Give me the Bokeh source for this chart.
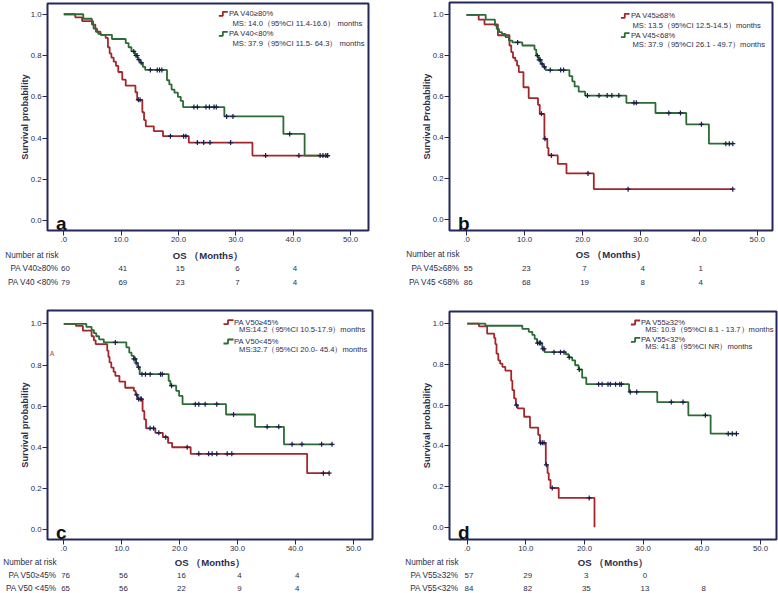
from bokeh.plotting import figure
from bokeh.layouts import column, row
from bokeh.models import Label, Range1d, FixedTicker, CustomJSTickFormatter
from bokeh.embed import file_html
from bokeh.resources import INLINE

# ---------------- data ----------------
X_TICKS = [0, 10, 20, 30, 40, 50]
X_TICK_LABELS = [".0", "10.0", "20.0", "30.0", "40.0", "50.0"]
Y_TICKS = [0.0, 0.2, 0.4, 0.6, 0.8, 1.0]
Y_TICK_LABELS = ["0.0", "0.2", "0.4", "0.6", "0.8", "1.0"]
RISK_TIMES = [0, 10, 20, 30, 40]
X_TITLE = "OS \uff08Months\uff09"
RISK_TITLE = "Number at risk"

# Panel a
A_RED_T = [0, 2.0, 3.2, 5.1, 5.5, 5.8, 6.4, 7.3, 7.7, 8.0, 8.3, 8.7, 9.1, 9.5, 10.2, 10.8, 12.5, 12.8, 13.7, 14.0, 14.3, 15.7, 17.3, 21.8, 32.9]
A_RED_S = [1.0, 0.985, 0.967, 0.95, 0.93, 0.915, 0.90, 0.885, 0.84, 0.81, 0.79, 0.77, 0.75, 0.72, 0.683, 0.654, 0.622, 0.585, 0.525, 0.487, 0.457, 0.434, 0.409, 0.378, 0.315]
A_RED_END = 46.0
A_RED_CENS = [13.0, 13.3, 18.6, 20.9, 21.3, 23.3, 24.4, 25.5, 29.1, 35.2, 41.0, 46.0]
A_GREEN_T = [0, 3.4, 4.9, 5.2, 5.6, 6.0, 6.5, 8.4, 10.8, 11.3, 11.8, 12.4, 12.9, 13.3, 13.8, 14.2, 18.0, 18.4, 18.8, 19.3, 19.9, 20.4, 20.8, 28.0, 38.3, 42.0]
A_GREEN_S = [1.0, 0.978, 0.95, 0.93, 0.915, 0.905, 0.90, 0.88, 0.86, 0.84, 0.82, 0.80, 0.78, 0.765, 0.745, 0.73, 0.68, 0.66, 0.635, 0.62, 0.60, 0.58, 0.55, 0.505, 0.42, 0.315]
A_GREEN_END = 46.0
A_GREEN_CENS = [12.2, 12.6, 12.8, 13.1, 13.5, 15.1, 16.3, 16.7, 17.1, 22.7, 23.3, 24.8, 25.4, 26.2, 26.6, 28.4, 29.5, 39.4, 44.7, 45.2, 45.7, 46.0]
A_LEGEND = ["PA V40\u226580%", "MS: 14.0\uff0895%CI 11.4-16.6\uff09 months",
            "PA V40<80%", "MS: 37.9\uff0895%CI 11.5- 64.3\uff09 months"]
A_RISK_LABELS = ["PA V40\u226580%", "PA V40 <80%"]
A_RISK_HIGH = [60, 41, 15, 6, 4]
A_RISK_LOW = [79, 69, 23, 7, 4]

# Panel b
B_RED_T = [0, 2.1, 3.1, 5.4, 7.4, 7.7, 8.0, 8.4, 8.7, 9.0, 9.8, 10.7, 12.3, 12.6, 13.4, 13.9, 14.1, 15.7, 17.2, 21.9]
B_RED_S = [1.0, 0.976, 0.953, 0.90, 0.85, 0.818, 0.79, 0.776, 0.752, 0.72, 0.646, 0.593, 0.56, 0.516, 0.394, 0.35, 0.313, 0.272, 0.225, 0.148]
B_RED_END = 45.8
B_RED_CENS = [12.9, 13.5, 14.6, 20.9, 27.8, 45.8]
B_GREEN_T = [0, 3.3, 4.9, 5.2, 5.6, 6.1, 6.7, 7.3, 7.9, 9.6, 11.7, 12.0, 12.4, 12.8, 13.2, 13.6, 17.7, 18.2, 18.6, 19.3, 20.4, 27.5, 32.5, 37.8, 41.7]
B_GREEN_S = [1.0, 0.976, 0.948, 0.931, 0.915, 0.907, 0.891, 0.874, 0.865, 0.85, 0.83, 0.80, 0.78, 0.76, 0.745, 0.73, 0.70, 0.675, 0.65, 0.625, 0.605, 0.57, 0.52, 0.465, 0.37]
B_GREEN_END = 45.8
B_GREEN_CENS = [8.8, 12.2, 12.5, 12.7, 13.0, 13.4, 14.4, 16.2, 16.7, 20.8, 22.8, 24.2, 25.0, 26.2, 28.8, 29.2, 34.8, 36.8, 40.4, 44.6, 45.2, 45.8]
B_LEGEND = ["PA V45\u226568%", "MS: 13.5\uff0895%CI 12.5-14.5\uff09months",
            "PA V45<68%", "MS: 37.9\uff0895%CI 26.1 - 49.7\uff09months"]
B_RISK_LABELS = ["PA V45\u226568%", "PA V45 <68%"]
B_RISK_HIGH = [55, 23, 7, 4, 1]
B_RISK_LOW = [86, 68, 19, 8, 4]

# Panel c
C_RED_T = [0, 2.1, 3.3, 4.8, 5.2, 5.5, 7.5, 7.7, 7.9, 8.2, 8.6, 8.9, 9.6, 10.6, 12.1, 12.4, 12.7, 13.6, 13.9, 14.2, 15.8, 17.1, 18.0, 18.7, 21.9, 42.0]
C_RED_S = [1.0, 0.99, 0.967, 0.94, 0.92, 0.902, 0.87, 0.84, 0.813, 0.788, 0.767, 0.748, 0.72, 0.69, 0.675, 0.655, 0.635, 0.577, 0.536, 0.493, 0.471, 0.45, 0.422, 0.401, 0.369, 0.275]
C_RED_END = 45.8
C_RED_CENS = [12.6, 12.9, 13.2, 13.4, 14.9, 15.5, 16.4, 17.6, 21.3, 23.3, 25.0, 25.6, 26.4, 28.2, 29.0, 44.8, 45.8]
C_GREEN_T = [0, 3.9, 4.8, 5.2, 5.6, 6.1, 6.9, 10.8, 11.3, 11.7, 12.1, 12.5, 12.8, 13.1, 18.1, 18.4, 19.4, 19.9, 20.5, 28.0, 33.0, 38.0]
C_GREEN_S = [1.0, 0.985, 0.97, 0.955, 0.94, 0.925, 0.91, 0.886, 0.86, 0.845, 0.83, 0.81, 0.79, 0.756, 0.723, 0.70, 0.675, 0.65, 0.61, 0.56, 0.50, 0.415]
C_GREEN_END = 46.3
C_GREEN_CENS = [8.9, 12.1, 12.3, 12.5, 12.9, 13.5, 14.1, 14.9, 16.7, 17.0, 18.6, 22.7, 23.3, 24.4, 26.4, 29.3, 35.1, 37.1, 39.4, 41.1, 44.5, 46.3]
C_LEGEND = ["PA V50\u226545%", "MS:14.2\uff0895%CI 10.5-17.9\uff09months",
            "PA V50<45%", "MS:32.7\uff0895%CI 20.0- 45.4\uff09months"]
C_RISK_LABELS = ["PA V50\u226545%", "PA V50 <45%"]
C_RISK_HIGH = [76, 56, 16, 4, 4]
C_RISK_LOW = [65, 56, 22, 9, 4]

# Panel d
D_RED_T = [0, 2.0, 3.4, 4.6, 4.8, 5.0, 5.3, 5.6, 6.0, 6.5, 7.5, 7.7, 8.0, 8.3, 8.6, 9.7, 10.7, 12.1, 12.4, 13.4, 13.7, 13.9, 14.2, 15.6, 21.7]
D_RED_S = [1.0, 0.987, 0.951, 0.93, 0.90, 0.853, 0.82, 0.804, 0.788, 0.77, 0.72, 0.674, 0.633, 0.60, 0.584, 0.543, 0.49, 0.454, 0.415, 0.307, 0.266, 0.233, 0.193, 0.144, 0.0]
D_RED_END = None
D_RED_CENS = [8.4, 12.5, 12.8, 13.1, 13.5, 14.5, 20.8]
D_GREEN_T = [0, 3.1, 9.4, 10.5, 11.1, 11.5, 11.9, 12.8, 13.2, 16.8, 17.3, 17.9, 18.4, 19.0, 19.6, 20.3, 27.6, 32.4, 37.7, 41.5]
D_GREEN_S = [1.0, 0.99, 0.975, 0.96, 0.945, 0.926, 0.905, 0.877, 0.86, 0.85, 0.835, 0.82, 0.796, 0.775, 0.735, 0.703, 0.665, 0.615, 0.55, 0.46]
D_GREEN_END = 45.9
D_GREEN_CENS = [12.0, 12.3, 12.5, 12.9, 13.1, 14.8, 15.9, 16.5, 17.4, 19.1, 22.4, 23.0, 24.0, 24.4, 25.3, 26.0, 26.3, 27.8, 28.9, 34.8, 36.8, 40.6, 44.5, 45.2, 45.9]
D_LEGEND = ["PA V55\u226532%", "MS: 10.9\uff0895%CI 8.1 - 13.7\uff09months",
            "PA V55<32%", "MS: 41.8\uff0895%CI NR\uff09months"]
D_RISK_LABELS = ["PA V55\u226532%", "PA V55<32%"]
D_RISK_HIGH = [57, 29, 3, 0]
D_RISK_LOW = [84, 82, 35, 13, 8]

# ---------------- style ----------------
FONT = "Liberation Sans"
RED = "#a3262b"
GREEN = "#2b6b36"
NAVY = "#25275a"
TEXT = "#2c2c4a"
CENS = "#1c1c4c"

# layout geometry in pixels
GEOM = {
    "a": dict(w=389, h=297, bl=47, br=21, bt=3, fh=227, xr=(-2.84, 53.14), yr=(-0.048, 1.052),
              leg_icon=(171.3, 180.3), leg_text=181.5, leg_ms=185.0, leg_rows=(10.3, 20.3, 30.3, 40.3),
              risk_rows=(8.0, 21.0, 35.0), label_end=11),
    "b": dict(w=389, h=297, bl=60, br=6, bt=2, fh=228, xr=(-2.92, 52.63), yr=(-0.054, 1.060),
              leg_icon=(171.4, 180.0), leg_text=181.4, leg_ms=183.0, leg_rows=(13.3, 22.6, 32.6, 41.6),
              risk_rows=(6.5, 21.0, 35.0), label_end=10),
    "c": dict(w=389, h=296, bl=47, br=17, bt=13, fh=229, xr=(-2.81, 53.28), yr=(-0.047, 1.065),
              leg_icon=(176.0, 186.0), leg_text=186.6, leg_ms=191.6, leg_rows=(11.7, 19.3, 31.0, 39.0),
              risk_rows=(5.7, 19.0, 32.0), label_end=9),
    "d": dict(w=389, h=296, bl=60, br=2, bt=14, fh=228, xr=(-3.02, 52.73), yr=(-0.060, 1.060),
              leg_icon=(181.4, 190.7), leg_text=191.4, leg_ms=195.7, leg_rows=(11.0, 18.3, 28.3, 35.3),
              risk_rows=(5.7, 19.0, 32.0), label_end=9),
}
BB = 17  # bottom border of the survival plot (ticks + tick labels)

PANELS = [
    dict(letter="a", ylabel="Survival probability",
         red=(A_RED_T, A_RED_S, A_RED_END, A_RED_CENS), green=(A_GREEN_T, A_GREEN_S, A_GREEN_END, A_GREEN_CENS),
         legend=A_LEGEND, risk_labels=A_RISK_LABELS, risk=(A_RISK_HIGH, A_RISK_LOW)),
    dict(letter="b", ylabel="Survival Probability",
         red=(B_RED_T, B_RED_S, B_RED_END, B_RED_CENS), green=(B_GREEN_T, B_GREEN_S, B_GREEN_END, B_GREEN_CENS),
         legend=B_LEGEND, risk_labels=B_RISK_LABELS, risk=(B_RISK_HIGH, B_RISK_LOW)),
    dict(letter="c", ylabel="Survival probability",
         red=(C_RED_T, C_RED_S, C_RED_END, C_RED_CENS), green=(C_GREEN_T, C_GREEN_S, C_GREEN_END, C_GREEN_CENS),
         legend=C_LEGEND, risk_labels=C_RISK_LABELS, risk=(C_RISK_HIGH, C_RISK_LOW)),
    dict(letter="d", ylabel="Survival probability",
         red=(D_RED_T, D_RED_S, D_RED_END, D_RED_CENS), green=(D_GREEN_T, D_GREEN_S, D_GREEN_END, D_GREEN_CENS),
         legend=D_LEGEND, risk_labels=D_RISK_LABELS, risk=(D_RISK_HIGH, D_RISK_LOW)),
]


def surv_at(t, s, c):
    val = s[0]
    for ti, si in zip(t, s):
        if ti <= c:
            val = si
        else:
            break
    return val


def add_label(p, x, y, text, size, color=TEXT, bold=False, align="left", baseline="middle"):
    p.add_layout(Label(x=x, y=y, text=text, text_font=FONT, text_font_size=f"{size}px",
                       text_color=color, text_font_style="bold" if bold else "normal",
                       text_align=align, text_baseline=baseline))


JS_FMT = ("let b = -1; for (let i = 0; i < tv.length; i++) { if (Math.abs(tv[i] - tick) < 1e-9) b = i; }"
          " return b >= 0 ? tl[b] : '';")


def style_axis(ax):
    ax.axis_line_color = None
    ax.major_tick_in = 0
    ax.major_tick_out = 5
    ax.major_tick_line_color = NAVY
    ax.major_tick_line_width = 1
    ax.minor_tick_line_color = None
    ax.major_label_text_font = FONT
    ax.major_label_text_font_size = "7.8px"
    ax.major_label_text_color = TEXT
    ax.major_label_standoff = 1
    ax.axis_label_text_font = FONT
    ax.axis_label_text_font_size = "9.2px"
    ax.axis_label_text_font_style = "bold"
    ax.axis_label_text_color = TEXT


def make_panel(cfg):
    g = GEOM[cfg["letter"]]
    x0, x1 = g["xr"]
    y0, y1 = g["yr"]
    fw = g["w"] - g["bl"] - g["br"]
    fh = g["fh"]
    ppx = fw / (x1 - x0)
    ppy = fh / (y1 - y0)
    km_h = g["bt"] + fh + BB
    risk_h = g["h"] - km_h

    def X(dx):  # px offset from frame left -> data x
        return x0 + dx / ppx

    def YT(dy):  # px offset below frame top -> data y
        return y1 - dy / ppy

    xrange_ = Range1d(x0, x1)
    p = figure(width=g["w"], height=km_h, output_backend="svg", toolbar_location=None,
               x_range=xrange_, y_range=Range1d(y0, y1),
               min_border_left=g["bl"], min_border_right=g["br"],
               min_border_top=g["bt"], min_border_bottom=BB)
    p.grid.visible = False
    p.background_fill_color = "white"
    p.border_fill_color = "white"
    p.outline_line_color = NAVY
    p.outline_line_width = 2
    p.outline_line_alpha = 1.0
    style_axis(p.xaxis[0])
    style_axis(p.yaxis[0])

    p.xaxis.ticker = FixedTicker(ticks=X_TICKS)
    p.xaxis.formatter = CustomJSTickFormatter(args=dict(tv=X_TICKS, tl=X_TICK_LABELS), code=JS_FMT)
    p.yaxis.ticker = FixedTicker(ticks=Y_TICKS)
    p.yaxis.formatter = CustomJSTickFormatter(args=dict(tv=Y_TICKS, tl=Y_TICK_LABELS), code=JS_FMT)
    p.yaxis.axis_label = cfg["ylabel"]
    p.yaxis.axis_label_standoff = -2

    # curves
    for (t, s, end, cens), color in ((cfg["red"], RED), (cfg["green"], GREEN)):
        xs = list(t) + ([end] if end is not None else [])
        ys = list(s) + ([s[-1]] if end is not None else [])
        p.step(xs, ys, mode="after", line_color=color, line_width=1.8)
    for (t, s, end, cens), color in ((cfg["red"], RED), (cfg["green"], GREEN)):
        cy = [surv_at(t, s, c) for c in cens]
        p.scatter(cens, cy, marker="cross", size=5, line_color=CENS, line_width=1.2)

    # legend
    ix0, ix1 = g["leg_icon"]
    ixm = ix0 + 0.45 * (ix1 - ix0)
    rows = g["leg_rows"]
    for k, color in ((0, RED), (1, GREEN)):
        yc = rows[2 * k]
        p.line([X(ix0), X(ixm), X(ixm), X(ix1)], [YT(yc + 2), YT(yc + 2), YT(yc - 2), YT(yc - 2)],
               line_color=color, line_width=1.8)
        add_label(p, X(g["leg_text"]), YT(yc), cfg["legend"][2 * k], 7.6)
        add_label(p, X(g["leg_ms"]), YT(rows[2 * k + 1]), cfg["legend"][2 * k + 1], 7.6)

    # panel letter
    add_label(p, X(8.5), y0 + 7 / ppy, cfg["letter"], 19, color="#111111", bold=True, baseline="alphabetic")

    # stray mark in panel c
    if cfg["letter"] == "c":
        add_label(p, -2.0, 0.854, "A", 7, color="#a05050", align="center")

    # risk strip below: same month scale (same frame), y in px from the strip's top
    r = figure(width=g["w"], height=risk_h, output_backend="svg", toolbar_location=None,
               x_range=xrange_, y_range=Range1d(risk_h, 0), x_axis_type=None,
               min_border_left=g["bl"], min_border_right=g["br"], min_border_top=0, min_border_bottom=0)
    r.grid.visible = False
    r.outline_line_color = None
    r.background_fill_color = "white"
    r.border_fill_color = "white"
    ra = r.yaxis[0]
    ra.axis_line_color = None
    ra.major_tick_line_color = None
    ra.minor_tick_line_color = None
    ra.major_tick_in = 0
    ra.major_tick_out = 0
    ra.major_label_standoff = -g["label_end"]
    ra.major_label_text_font = FONT
    ra.major_label_text_font_size = "8.2px"
    ra.major_label_text_color = TEXT
    row_y = list(g["risk_rows"])
    row_txt = [RISK_TITLE] + list(cfg["risk_labels"])
    ra.ticker = FixedTicker(ticks=row_y)
    ra.formatter = CustomJSTickFormatter(args=dict(tv=row_y, tl=row_txt), code=JS_FMT)

    add_label(r, (x0 + x1) / 2, row_y[0], X_TITLE, 9.6, bold=True, align="center")
    for k, nums in enumerate(cfg["risk"]):
        yy = row_y[k + 1]
        for tt, n in zip(RISK_TIMES, nums):
            add_label(r, tt + 0.3, yy, str(n), 7.9, align="center")
    return column(p, r, spacing=0)


cols = [make_panel(c) for c in PANELS]
layout = column(row(cols[0], cols[1], spacing=0), row(cols[2], cols[3], spacing=0), spacing=0)

with open("out.html", "w") as f:
    f.write(file_html(layout, INLINE))
